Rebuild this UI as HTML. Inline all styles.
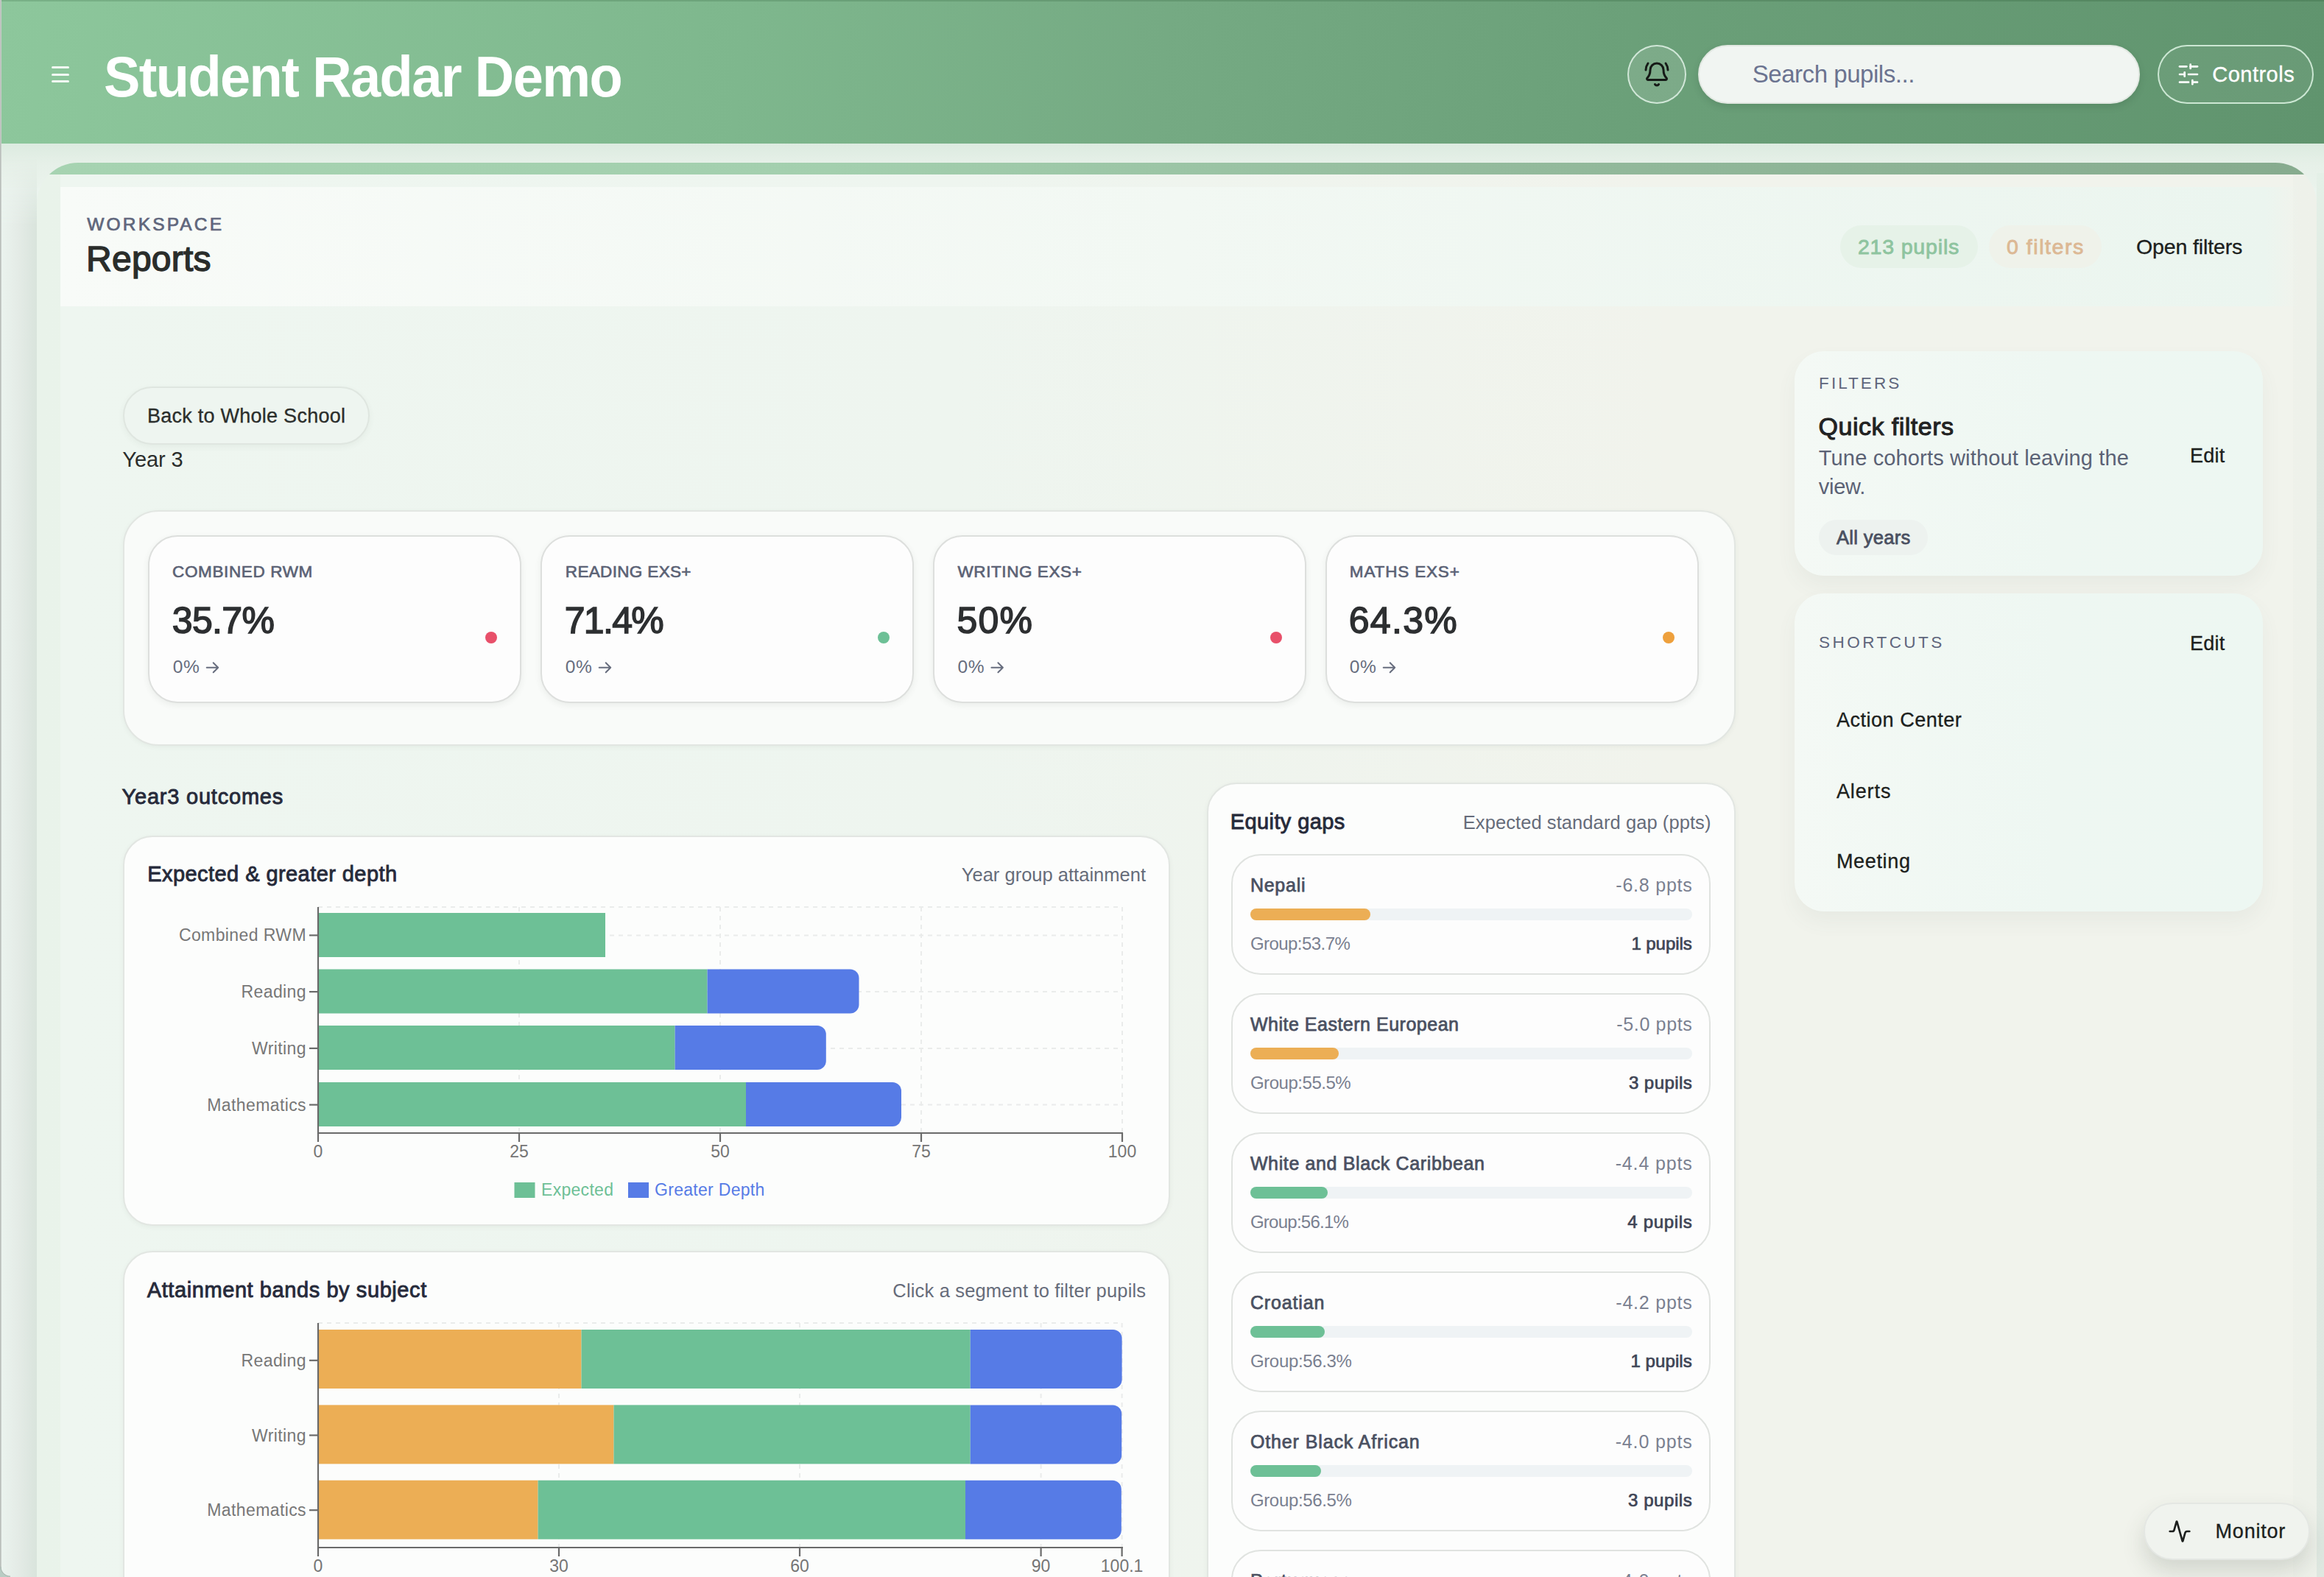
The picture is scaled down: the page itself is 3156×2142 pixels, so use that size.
<!DOCTYPE html>
<html>
<head>
<meta charset="utf-8">
<style>
*{box-sizing:border-box;margin:0;padding:0}
html,body{width:3156px;height:2142px;overflow:hidden}
body{font-family:"Liberation Sans",sans-serif;background:#eef4ee;position:relative;color:#1f2328}
.abs{position:absolute}
#bg{left:0;top:0;width:3156px;height:2142px;background:#ebf4ee}
#lstrip{left:0;top:215px;width:50px;height:1927px;background:linear-gradient(90deg,#ebf4ef 0%,#e4ebe6 50%,#d9e4dc 100%);-webkit-mask-image:linear-gradient(180deg,transparent 0,#000 90px);mask-image:linear-gradient(180deg,transparent 0,#000 90px)}
#rstrip{left:3146px;top:235px;width:10px;height:1907px;background:linear-gradient(180deg,#e4f0e7 0,#dde6df 300px,#dfe8e1 100%)}
#topstrip{left:0;top:195px;width:3156px;height:60px;background:linear-gradient(180deg,#dcebe0 0%,#e6f0e8 45%,#eaf3ec 100%)}
#inner{left:82px;top:237px;width:3032px;height:1905px;background:linear-gradient(90deg,#eef6f0 0%,#eef5ef 40%,#f1f3ec 72%,#f1f3ec 100%)}
#hdr{left:0;top:0;width:3156px;height:195px;background:linear-gradient(97deg,#8dc79c 0%,#7eb78d 32%,#75aa83 50%,#6ba079 70%,#60946e 100%);box-shadow:inset 0 2px 0 rgba(0,40,10,.14)}

#edge{left:0;top:0;width:2px;height:2142px;background:linear-gradient(90deg,#b4b9b5,#cdd2ce)}
#title{left:141px;top:61px;font-size:74px;font-weight:700;color:#fff;letter-spacing:-1.6px;white-space:nowrap;line-height:90px;transform:scaleY(1.05);transform-origin:0 70px}
.hline{left:70px;width:24px;height:3px;background:#f2f8f3;border-radius:2px}
#bell{left:2210px;top:61px;width:80px;height:80px;border-radius:50%;border:2px solid rgba(225,242,230,.85);background:rgba(255,255,255,.12)}
#search{left:2306px;top:61px;width:600px;height:80px;border-radius:40px;background:#f1f5f2;border:2px solid #e2e8e2;box-shadow:0 4px 10px rgba(40,70,50,.18)}
#controls{left:2930px;top:61px;width:212px;height:80px;border-radius:40px;border:2px solid rgba(215,240,222,.9);background:rgba(255,255,255,.06)}
#panel{left:50px;top:221px;width:3096px;height:1960px;border-radius:56px 56px 0 0;background:linear-gradient(90deg,#e9f3ea 0%,#ecf4ed 40%,#f0f2eb 72%,#eef1ea 100%);overflow:hidden}
#band{left:0;top:0;width:3096px;height:16px;background:linear-gradient(90deg,#a6d3b1 0%,#a3cfae 35%,#93ba9c 65%,#86ab8e 100%)}
#phead{left:82px;top:254px;width:3040px;height:162px;background:linear-gradient(90deg,#f8fbf8 0%,#f2f8f3 50%,#ebf5ef 98.5%,rgba(235,245,239,0) 100%)}
.t{position:absolute;white-space:nowrap;line-height:1}
.pill{position:absolute;height:58px;border-radius:29px}
.card{position:absolute;background:#fcfdfc;border:2px solid #e2e6e2;border-radius:40px;box-shadow:0 2px 6px rgba(60,80,70,.06)}
.stat{position:absolute;top:727px;width:507px;height:228px;background:#fdfdfd;border:2px solid #dddfdd;border-radius:40px;box-shadow:0 3px 8px rgba(60,80,70,.08)}
.dot{position:absolute;top:858px;width:16px;height:16px;border-radius:50%}
.eq{position:absolute;left:1672px;width:651px;height:164px;border:2px solid #e0e3e0;border-radius:40px;background:#fdfdfd}
.tr{position:absolute;left:1698px;width:600px;height:16px;border-radius:8px;background:#eff3f5}
.fl{position:absolute;left:0;top:0;height:16px;border-radius:8px}
.side{position:absolute;left:2437px;width:636px;border-radius:40px;background:linear-gradient(90deg,#f4f9f5 0%,#eef7f2 55%,#edf7f2 100%);box-shadow:0 14px 28px rgba(90,110,95,.06)}
</style>
</head>
<body>
<div id="bg" class="abs"></div>
<div id="hdr" class="abs"></div>
<div id="topstrip" class="abs"></div><div id="lstrip" class="abs"></div><div id="rstrip" class="abs"></div>
<div id="title" class="abs">Student Radar Demo</div>
<div class="abs hline" style="top:90px"></div>
<div class="abs hline" style="top:100px"></div>
<div class="abs hline" style="top:109px"></div>
<div id="bell" class="abs"></div>
<svg class="abs" style="left:2232px;top:83px" width="36" height="36" viewBox="0 0 24 24" fill="none" stroke="#161a17" stroke-width="2" stroke-linecap="round" stroke-linejoin="round"><path d="M10.268 21a2 2 0 0 0 3.464 0"/><path d="M22 8c0-2.3-.8-4.3-2-6"/><path d="M3.262 15.326A1 1 0 0 0 4 17h16a1 1 0 0 0 .74-1.673C19.41 13.956 18 12.499 18 8A6 6 0 0 0 6 8c0 4.499-1.411 5.956-2.738 7.326"/><path d="M4 2C2.8 3.7 2 5.7 2 8"/></svg>
<div id="search" class="abs"></div>
<div id="controls" class="abs"></div>
<svg class="abs" style="left:2956px;top:85px" width="32" height="32" viewBox="0 0 24 24" fill="none" stroke="#fff" stroke-width="2" stroke-linecap="round" stroke-linejoin="round"><line x1="21" x2="14" y1="4" y2="4"/><line x1="10" x2="3" y1="4" y2="4"/><line x1="21" x2="12" y1="12" y2="12"/><line x1="8" x2="3" y1="12" y2="12"/><line x1="21" x2="16" y1="20" y2="20"/><line x1="12" x2="3" y1="20" y2="20"/><line x1="14" x2="14" y1="2" y2="6"/><line x1="8" x2="8" y1="10" y2="14"/><line x1="16" x2="16" y1="18" y2="22"/></svg>

<div id="panel" class="abs"><div id="band" class="abs"></div></div>
<div id="inner" class="abs"></div>
<div id="phead" class="abs"></div>
<div class="pill" style="left:2499px;top:306px;width:187px;background:#e6f2e8"></div>
<div class="pill" style="left:2701px;top:306px;width:153px;background:#eff2ea"></div>

<div class="abs" style="left:167px;top:525px;width:335px;height:79px;border-radius:40px;border:2px solid #dfe6e0;background:#eef5f0;box-shadow:0 3px 8px rgba(60,80,70,.06)"></div>

<div class="card" style="left:167px;top:693px;width:2190px;height:320px;background:#f9fbf9;border-radius:48px"></div>
<div class="stat" style="left:201px"></div><div class="dot" style="left:659px;background:#e8506a"></div>
<div class="stat" style="left:734px"></div><div class="dot" style="left:1192px;background:#6dc096"></div>
<div class="stat" style="left:1267px"></div><div class="dot" style="left:1725px;background:#e8506a"></div>
<div class="stat" style="left:1800px"></div><div class="dot" style="left:2258px;background:#eea03c"></div>

<div class="card" style="left:167px;top:1135px;width:1422px;height:530px"></div>
<div class="card" style="left:167px;top:1699px;width:1422px;height:528px"></div>
<div class="card" style="left:1639px;top:1063px;width:718px;height:1200px"></div>

<div class="eq" style="top:1160px"></div><div class="tr" style="top:1234px"><div class="fl" style="width:163px;background:#ecae55"></div></div>
<div class="eq" style="top:1349px"></div><div class="tr" style="top:1423px"><div class="fl" style="width:120px;background:#ecae55"></div></div>
<div class="eq" style="top:1538px"></div><div class="tr" style="top:1612px"><div class="fl" style="width:105px;background:#6dc096"></div></div>
<div class="eq" style="top:1727px"></div><div class="tr" style="top:1801px"><div class="fl" style="width:101px;background:#6dc096"></div></div>
<div class="eq" style="top:1916px"></div><div class="tr" style="top:1990px"><div class="fl" style="width:96px;background:#6dc096"></div></div>
<div class="eq" style="top:2105px"></div>

<div class="side" style="top:477px;height:305px"></div>
<div class="abs" style="left:2470px;top:706px;width:148px;height:48px;border-radius:24px;background:#edf2ef"></div>
<div class="side" style="top:806px;height:432px"></div>

<div class="abs" style="left:2911px;top:2041px;width:226px;height:78px;border-radius:39px;background:#f0f3ee;border:2px solid #e4e7e3;box-shadow:0 16px 30px rgba(60,70,60,.17)"></div>
<svg class="abs" style="left:2944px;top:2064px" width="32" height="32" viewBox="0 0 24 24" fill="none" stroke="#1c1f1d" stroke-width="2" stroke-linecap="round" stroke-linejoin="round"><path d="M22 12h-2.48a2 2 0 0 0-1.93 1.46l-2.35 8.36a.25.25 0 0 1-.48 0L9.24 2.18a.25.25 0 0 0-.48 0l-2.35 8.36A2 2 0 0 1 4.49 12H2"/></svg>

<svg class="abs" style="left:0;top:0" width="3156" height="2142" viewBox="0 0 3156 2142" font-family="Liberation Sans, sans-serif">
<line x1="705.0" y1="1232" x2="705.0" y2="1539" stroke="#eaeceb" stroke-width="2" stroke-dasharray="6 6"/>
<line x1="978.0" y1="1232" x2="978.0" y2="1539" stroke="#eaeceb" stroke-width="2" stroke-dasharray="6 6"/>
<line x1="1251.0" y1="1232" x2="1251.0" y2="1539" stroke="#eaeceb" stroke-width="2" stroke-dasharray="6 6"/>
<line x1="1524.0" y1="1232" x2="1524.0" y2="1539" stroke="#eaeceb" stroke-width="2" stroke-dasharray="6 6"/>
<line x1="432" y1="1232" x2="1524" y2="1232" stroke="#eaeceb" stroke-width="2" stroke-dasharray="6 6"/>
<line x1="432" y1="1270.4" x2="1524" y2="1270.4" stroke="#eaeceb" stroke-width="2" stroke-dasharray="6 6"/>
<line x1="432" y1="1347.1" x2="1524" y2="1347.1" stroke="#eaeceb" stroke-width="2" stroke-dasharray="6 6"/>
<line x1="432" y1="1423.9" x2="1524" y2="1423.9" stroke="#eaeceb" stroke-width="2" stroke-dasharray="6 6"/>
<line x1="432" y1="1500.6" x2="1524" y2="1500.6" stroke="#eaeceb" stroke-width="2" stroke-dasharray="6 6"/>
<rect x="432" y="1240" width="390.0" height="60" fill="#6dc096"/>
<rect x="432" y="1316.5" width="528.6" height="60" fill="#6dc096"/>
<path d="M960.6,1316.5H1154.5a12,12 0 0 1 12,12V1364.5a12,12 0 0 1 -12,12H960.6z" fill="#567be6"/>
<rect x="432" y="1393" width="484.6" height="60" fill="#6dc096"/>
<path d="M916.6,1393H1109.8a12,12 0 0 1 12,12V1441a12,12 0 0 1 -12,12H916.6z" fill="#567be6"/>
<rect x="432" y="1470" width="581.0" height="60" fill="#6dc096"/>
<path d="M1013.0,1470H1212.0a12,12 0 0 1 12,12V1518a12,12 0 0 1 -12,12H1013.0z" fill="#567be6"/>
<line x1="432" y1="1232" x2="432" y2="1540" stroke="#6a6a6a" stroke-width="2.2"/>
<line x1="431" y1="1539" x2="1525" y2="1539" stroke="#6a6a6a" stroke-width="2.2"/>
<line x1="420" y1="1270.4" x2="432" y2="1270.4" stroke="#6a6a6a" stroke-width="2.2"/>
<text x="416" y="1278.4" text-anchor="end" font-size="23" letter-spacing=".4" fill="#777">Combined RWM</text>
<line x1="420" y1="1347.1" x2="432" y2="1347.1" stroke="#6a6a6a" stroke-width="2.2"/>
<text x="416" y="1355.1" text-anchor="end" font-size="23" letter-spacing=".4" fill="#777">Reading</text>
<line x1="420" y1="1423.9" x2="432" y2="1423.9" stroke="#6a6a6a" stroke-width="2.2"/>
<text x="416" y="1431.9" text-anchor="end" font-size="23" letter-spacing=".4" fill="#777">Writing</text>
<line x1="420" y1="1500.6" x2="432" y2="1500.6" stroke="#6a6a6a" stroke-width="2.2"/>
<text x="416" y="1508.6" text-anchor="end" font-size="23" letter-spacing=".4" fill="#777">Mathematics</text>
<line x1="432.0" y1="1539" x2="432.0" y2="1551" stroke="#6a6a6a" stroke-width="2.2"/>
<text x="432.0" y="1572" text-anchor="middle" font-size="23" fill="#757575">0</text>
<line x1="705.0" y1="1539" x2="705.0" y2="1551" stroke="#6a6a6a" stroke-width="2.2"/>
<text x="705.0" y="1572" text-anchor="middle" font-size="23" fill="#757575">25</text>
<line x1="978.0" y1="1539" x2="978.0" y2="1551" stroke="#6a6a6a" stroke-width="2.2"/>
<text x="978.0" y="1572" text-anchor="middle" font-size="23" fill="#757575">50</text>
<line x1="1251.0" y1="1539" x2="1251.0" y2="1551" stroke="#6a6a6a" stroke-width="2.2"/>
<text x="1251.0" y="1572" text-anchor="middle" font-size="23" fill="#757575">75</text>
<line x1="1524.0" y1="1539" x2="1524.0" y2="1551" stroke="#6a6a6a" stroke-width="2.2"/>
<text x="1524.0" y="1572" text-anchor="middle" font-size="23" fill="#757575">100</text>
<rect x="698.5" y="1606" width="28" height="21" fill="#6dc096"/>
<text x="735" y="1623.5" font-size="23" fill="#6dc096" letter-spacing=".3">Expected</text>
<rect x="853" y="1606" width="28" height="21" fill="#567be6"/>
<text x="889" y="1623.5" font-size="23" fill="#567be6" letter-spacing=".3">Greater Depth</text>
<line x1="759.0" y1="1797" x2="759.0" y2="2102" stroke="#eaeceb" stroke-width="2" stroke-dasharray="6 6"/>
<line x1="1086.0" y1="1797" x2="1086.0" y2="2102" stroke="#eaeceb" stroke-width="2" stroke-dasharray="6 6"/>
<line x1="1413.6" y1="1797" x2="1413.6" y2="2102" stroke="#eaeceb" stroke-width="2" stroke-dasharray="6 6"/>
<line x1="1523.6" y1="1797" x2="1523.6" y2="2102" stroke="#eaeceb" stroke-width="2" stroke-dasharray="6 6"/>
<line x1="432" y1="1797" x2="1524" y2="1797" stroke="#eaeceb" stroke-width="2" stroke-dasharray="6 6"/>
<rect x="432" y="1806" width="357.5" height="80" fill="#ecae55"/>
<rect x="789.5" y="1806" width="528.2" height="80" fill="#6dc096"/>
<path d="M1317.7,1806H1511.6a12,12 0 0 1 12,12V1874a12,12 0 0 1 -12,12H1317.7z" fill="#567be6"/>
<rect x="432" y="1908.4" width="401.5" height="80" fill="#ecae55"/>
<rect x="833.5" y="1908.4" width="484.2" height="80" fill="#6dc096"/>
<path d="M1317.7,1908.4H1511.2a12,12 0 0 1 12,12V1976.4a12,12 0 0 1 -12,12H1317.7z" fill="#567be6"/>
<rect x="432" y="2010.7" width="298.6" height="80" fill="#ecae55"/>
<rect x="730.6" y="2010.7" width="580.4" height="80" fill="#6dc096"/>
<path d="M1311.0,2010.7H1510.8a12,12 0 0 1 12,12V2078.7a12,12 0 0 1 -12,12H1311.0z" fill="#567be6"/>
<line x1="432" y1="1797" x2="432" y2="2103" stroke="#6a6a6a" stroke-width="2.2"/>
<line x1="431" y1="2102" x2="1525" y2="2102" stroke="#6a6a6a" stroke-width="2.2"/>
<line x1="420" y1="1847.8" x2="432" y2="1847.8" stroke="#6a6a6a" stroke-width="2.2"/>
<text x="416" y="1855.8" text-anchor="end" font-size="23" letter-spacing=".4" fill="#777">Reading</text>
<line x1="420" y1="1949.5" x2="432" y2="1949.5" stroke="#6a6a6a" stroke-width="2.2"/>
<text x="416" y="1957.5" text-anchor="end" font-size="23" letter-spacing=".4" fill="#777">Writing</text>
<line x1="420" y1="2051.2" x2="432" y2="2051.2" stroke="#6a6a6a" stroke-width="2.2"/>
<text x="416" y="2059.2" text-anchor="end" font-size="23" letter-spacing=".4" fill="#777">Mathematics</text>
<line x1="432.0" y1="2102" x2="432.0" y2="2114" stroke="#6a6a6a" stroke-width="2.2"/>
<text x="432.0" y="2135" text-anchor="middle" font-size="23" fill="#757575">0</text>
<line x1="759.0" y1="2102" x2="759.0" y2="2114" stroke="#6a6a6a" stroke-width="2.2"/>
<text x="759.0" y="2135" text-anchor="middle" font-size="23" fill="#757575">30</text>
<line x1="1086.0" y1="2102" x2="1086.0" y2="2114" stroke="#6a6a6a" stroke-width="2.2"/>
<text x="1086.0" y="2135" text-anchor="middle" font-size="23" fill="#757575">60</text>
<line x1="1413.6" y1="2102" x2="1413.6" y2="2114" stroke="#6a6a6a" stroke-width="2.2"/>
<text x="1413.6" y="2135" text-anchor="middle" font-size="23" fill="#757575">90</text>
<line x1="1523.6" y1="2102" x2="1523.6" y2="2114" stroke="#6a6a6a" stroke-width="2.2"/>
<text x="1523.6" y="2135" text-anchor="middle" font-size="23" fill="#757575">100.1</text>
<path d="M280.7,906.7h15.5m-6.5,-6.5l6.5,6.5l-6.5,6.5" fill="none" stroke="#676d7e" stroke-width="2" stroke-linecap="round" stroke-linejoin="round"/>
<path d="M813.7,906.7h15.5m-6.5,-6.5l6.5,6.5l-6.5,6.5" fill="none" stroke="#676d7e" stroke-width="2" stroke-linecap="round" stroke-linejoin="round"/>
<path d="M1346.4,906.7h15.5m-6.5,-6.5l6.5,6.5l-6.5,6.5" fill="none" stroke="#676d7e" stroke-width="2" stroke-linecap="round" stroke-linejoin="round"/>
<path d="M1878.7,906.7h15.5m-6.5,-6.5l6.5,6.5l-6.5,6.5" fill="none" stroke="#676d7e" stroke-width="2" stroke-linecap="round" stroke-linejoin="round"/>
</svg>
<div class="t" style="left:2379.7px;top:84.4px;font-size:33px;font-weight:400;color:#6b7390;letter-spacing:-0.45px">Search pupils...</div>
<div class="t" style="left:3004.3px;top:86.6px;font-size:29px;font-weight:400;-webkit-text-stroke:0.35px #fff;color:#fff;letter-spacing:0.48px">Controls</div>
<div class="t" style="left:118.3px;top:292.9px;font-size:24.5px;font-weight:400;-webkit-text-stroke:0.73px #5f667c;color:#5f667c;letter-spacing:3.16px">WORKSPACE</div>
<div class="t" style="left:117.1px;top:328.4px;font-size:48px;font-weight:400;-webkit-text-stroke:1.44px #2a2d2b;color:#2a2d2b;letter-spacing:0.22px">Reports</div>
<div class="t" style="left:2522.9px;top:321.2px;font-size:28.5px;font-weight:400;-webkit-text-stroke:0.85px #8ec49f;color:#8ec49f;letter-spacing:0.83px">213 pupils</div>
<div class="t" style="left:2724.9px;top:321.2px;font-size:28.5px;font-weight:400;-webkit-text-stroke:0.85px #dcb894;color:#dcb894;letter-spacing:1.57px">0 filters</div>
<div class="t" style="left:2900.9px;top:321.2px;font-size:28.5px;font-weight:400;-webkit-text-stroke:0.34px #1c1f1d;color:#1c1f1d;letter-spacing:-0.12px">Open filters</div>
<div class="t" style="left:199.9px;top:551.9px;font-size:27px;font-weight:400;-webkit-text-stroke:0.32px #2b2e2c;color:#2b2e2c;letter-spacing:0.26px">Back to Whole School</div>
<div class="t" style="left:166.3px;top:610.4px;font-size:29px;font-weight:400;color:#2b2e2c;letter-spacing:-0.07px">Year 3</div>
<div class="t" style="left:234.1px;top:766.3px;font-size:22.5px;font-weight:400;-webkit-text-stroke:0.67px #5b6275;color:#5b6275;letter-spacing:0.62px">COMBINED RWM</div>
<div class="t" style="left:767.8px;top:766.3px;font-size:22.5px;font-weight:400;-webkit-text-stroke:0.67px #5b6275;color:#5b6275;letter-spacing:0.34px">READING EXS+</div>
<div class="t" style="left:1300.5px;top:766.3px;font-size:22.5px;font-weight:400;-webkit-text-stroke:0.67px #5b6275;color:#5b6275;letter-spacing:0.58px">WRITING EXS+</div>
<div class="t" style="left:1832.8px;top:766.3px;font-size:22.5px;font-weight:400;-webkit-text-stroke:0.67px #5b6275;color:#5b6275;letter-spacing:0.84px">MATHS EXS+</div>
<div class="t" style="left:233.7px;top:817.9px;font-size:50px;font-weight:400;-webkit-text-stroke:1.50px #2d2f31;color:#2d2f31;letter-spacing:-0.62px">35.7%</div>
<div class="t" style="left:766.7px;top:817.9px;font-size:50px;font-weight:400;-webkit-text-stroke:1.50px #2d2f31;color:#2d2f31;letter-spacing:-1.67px">71.4%</div>
<div class="t" style="left:1299.4px;top:817.9px;font-size:50px;font-weight:400;-webkit-text-stroke:1.50px #2d2f31;color:#2d2f31;letter-spacing:1.21px">50%</div>
<div class="t" style="left:1831.7px;top:817.9px;font-size:50px;font-weight:400;-webkit-text-stroke:1.50px #2d2f31;color:#2d2f31;letter-spacing:1.33px">64.3%</div>
<div class="t" style="left:234.7px;top:894.4px;font-size:24.5px;font-weight:400;color:#676d7e;letter-spacing:0.80px">0%</div>
<div class="t" style="left:767.7px;top:894.4px;font-size:24.5px;font-weight:400;color:#676d7e;letter-spacing:0.80px">0%</div>
<div class="t" style="left:1300.4px;top:894.4px;font-size:24.5px;font-weight:400;color:#676d7e;letter-spacing:0.80px">0%</div>
<div class="t" style="left:1832.7px;top:894.4px;font-size:24.5px;font-weight:400;color:#676d7e;letter-spacing:0.80px">0%</div>
<div class="t" style="left:165.6px;top:1067.9px;font-size:29px;font-weight:400;-webkit-text-stroke:0.87px #262a3a;color:#262a3a;letter-spacing:0.78px">Year3 outcomes</div>
<div class="t" style="left:200.3px;top:1173.4px;font-size:29px;font-weight:400;-webkit-text-stroke:0.87px #262a3a;color:#262a3a;letter-spacing:0.43px">Expected &amp; greater depth</div>
<div class="t" style="right:1600.0px;top:1176.2px;font-size:25.5px;font-weight:400;color:#666c7a;letter-spacing:0.01px">Year group attainment</div>
<div class="t" style="left:199.8px;top:1738.4px;font-size:29px;font-weight:400;-webkit-text-stroke:0.87px #262a3a;color:#262a3a;letter-spacing:0.58px">Attainment bands by subject</div>
<div class="t" style="right:1599.8px;top:1741.2px;font-size:25.5px;font-weight:400;color:#666c7a;letter-spacing:0.16px">Click a segment to filter pupils</div>
<div class="t" style="left:1670.8px;top:1102.4px;font-size:29px;font-weight:400;-webkit-text-stroke:0.87px #262a3a;color:#262a3a;letter-spacing:0.39px">Equity gaps</div>
<div class="t" style="right:832.5px;top:1105.2px;font-size:25.5px;font-weight:400;color:#666c7a;letter-spacing:0.08px">Expected standard gap (ppts)</div>
<div class="t" style="left:2470.1px;top:510.3px;font-size:22.5px;font-weight:400;color:#5f667c;letter-spacing:3.04px">FILTERS</div>
<div class="t" style="left:2469.6px;top:561.9px;font-size:34px;font-weight:400;-webkit-text-stroke:1.02px #222;color:#222;letter-spacing:0.48px">Quick filters</div>
<div class="t" style="left:2469.8px;top:607.8px;font-size:29px;font-weight:400;color:#5b6275;letter-spacing:0.15px">Tune cohorts without leaving the</div>
<div class="t" style="left:2469.8px;top:647.4px;font-size:29px;font-weight:400;color:#5b6275;letter-spacing:-0.26px">view.</div>
<div class="t" style="left:2973.9px;top:605.8px;font-size:27px;font-weight:400;-webkit-text-stroke:0.32px #1c1f1d;color:#1c1f1d;letter-spacing:0.27px">Edit</div>
<div class="t" style="left:2494.0px;top:717.7px;font-size:25.5px;font-weight:400;-webkit-text-stroke:0.77px #4a5061;color:#4a5061;letter-spacing:0.31px">All years</div>
<div class="t" style="left:2470.1px;top:862.4px;font-size:22.5px;font-weight:400;color:#5f667c;letter-spacing:3.44px">SHORTCUTS</div>
<div class="t" style="left:2973.9px;top:861.4px;font-size:27px;font-weight:400;-webkit-text-stroke:0.32px #1c1f1d;color:#1c1f1d;letter-spacing:0.27px">Edit</div>
<div class="t" style="left:2493.9px;top:965.4px;font-size:27px;font-weight:400;-webkit-text-stroke:0.32px #1c1f1d;color:#1c1f1d;letter-spacing:0.53px">Action Center</div>
<div class="t" style="left:2493.9px;top:1061.5px;font-size:27px;font-weight:400;-webkit-text-stroke:0.32px #1c1f1d;color:#1c1f1d;letter-spacing:0.90px">Alerts</div>
<div class="t" style="left:2493.9px;top:1157.4px;font-size:27px;font-weight:400;-webkit-text-stroke:0.32px #1c1f1d;color:#1c1f1d;letter-spacing:0.66px">Meeting</div>
<div class="t" style="left:3008.6px;top:2067.3px;font-size:27px;font-weight:400;-webkit-text-stroke:0.32px #1c1f1d;color:#1c1f1d;letter-spacing:0.77px">Monitor</div>
<div class="t" style="left:1697.9px;top:1189.7px;font-size:25px;font-weight:400;-webkit-text-stroke:0.75px #4a5061;color:#4a5061;letter-spacing:0.75px">Nepali</div>
<div class="t" style="right:857.4px;top:1189.7px;font-size:25px;font-weight:400;color:#7a8090;letter-spacing:0.78px">-6.8 ppts</div>
<div class="t" style="left:1697.9px;top:1270.1px;font-size:24px;font-weight:400;color:#7a8090;letter-spacing:-0.55px">Group:53.7%</div>
<div class="t" style="right:858.3px;top:1270.1px;font-size:24px;font-weight:400;-webkit-text-stroke:0.72px #3f4556;color:#3f4556;letter-spacing:-0.05px">1 pupils</div>
<div class="t" style="left:1697.9px;top:1378.7px;font-size:25px;font-weight:400;-webkit-text-stroke:0.75px #4a5061;color:#4a5061;letter-spacing:0.51px">White Eastern European</div>
<div class="t" style="right:857.5px;top:1378.7px;font-size:25px;font-weight:400;color:#7a8090;letter-spacing:0.66px">-5.0 ppts</div>
<div class="t" style="left:1697.9px;top:1459.1px;font-size:24px;font-weight:400;color:#7a8090;letter-spacing:-0.46px">Group:55.5%</div>
<div class="t" style="right:857.8px;top:1459.1px;font-size:24px;font-weight:400;-webkit-text-stroke:0.72px #3f4556;color:#3f4556;letter-spacing:0.44px">3 pupils</div>
<div class="t" style="left:1697.9px;top:1567.7px;font-size:25px;font-weight:400;-webkit-text-stroke:0.75px #4a5061;color:#4a5061;letter-spacing:0.63px">White and Black Caribbean</div>
<div class="t" style="right:857.3px;top:1567.7px;font-size:25px;font-weight:400;color:#7a8090;letter-spacing:0.86px">-4.4 ppts</div>
<div class="t" style="left:1697.9px;top:1648.1px;font-size:24px;font-weight:400;color:#7a8090;letter-spacing:-0.74px">Group:56.1%</div>
<div class="t" style="right:857.6px;top:1648.1px;font-size:24px;font-weight:400;-webkit-text-stroke:0.72px #3f4556;color:#3f4556;letter-spacing:0.67px">4 pupils</div>
<div class="t" style="left:1697.9px;top:1756.7px;font-size:25px;font-weight:400;-webkit-text-stroke:0.75px #4a5061;color:#4a5061;letter-spacing:0.86px">Croatian</div>
<div class="t" style="right:857.4px;top:1756.7px;font-size:25px;font-weight:400;color:#7a8090;letter-spacing:0.78px">-4.2 ppts</div>
<div class="t" style="left:1697.9px;top:1837.1px;font-size:24px;font-weight:400;color:#7a8090;letter-spacing:-0.34px">Group:56.3%</div>
<div class="t" style="right:858.1px;top:1837.1px;font-size:24px;font-weight:400;-webkit-text-stroke:0.72px #3f4556;color:#3f4556;letter-spacing:0.10px">1 pupils</div>
<div class="t" style="left:1697.9px;top:1945.7px;font-size:25px;font-weight:400;-webkit-text-stroke:0.75px #4a5061;color:#4a5061;letter-spacing:0.88px">Other Black African</div>
<div class="t" style="right:857.4px;top:1945.7px;font-size:25px;font-weight:400;color:#7a8090;letter-spacing:0.85px">-4.0 ppts</div>
<div class="t" style="left:1697.9px;top:2026.1px;font-size:24px;font-weight:400;color:#7a8090;letter-spacing:-0.34px">Group:56.5%</div>
<div class="t" style="right:857.7px;top:2026.1px;font-size:24px;font-weight:400;-webkit-text-stroke:0.72px #3f4556;color:#3f4556;letter-spacing:0.57px">3 pupils</div>
<div class="t" style="left:1697.9px;top:2134.7px;font-size:25px;font-weight:400;-webkit-text-stroke:0.75px #4a5061;color:#4a5061;letter-spacing:1.05px">Portuguese</div>
<div class="t" style="right:857.4px;top:2134.7px;font-size:25px;font-weight:400;color:#7a8090;letter-spacing:0.85px">-4.0 ppts</div>
<div id="edge" class="abs"></div>
<div class="abs" style="left:0;top:2128px;width:14px;height:14px;background:radial-gradient(circle at 100% 0,rgba(0,0,0,0) 12px,#a9b5af 13px,#b9cdc4 14px)"></div>
</body>
</html>
